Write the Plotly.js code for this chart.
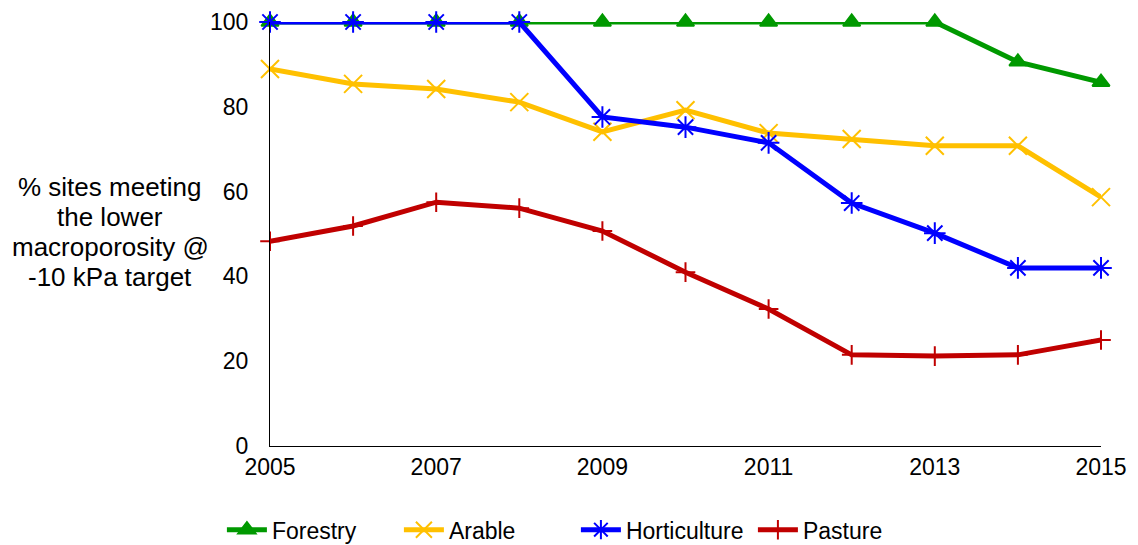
<!DOCTYPE html>
<html><head><meta charset="utf-8">
<script src="https://cdn.plot.ly/plotly-3.0.1.min.js"></script>
<style>html,body{margin:0;padding:0;background:#fff}#chart{width:1138px;height:545px}</style>
</head><body><div id="chart"></div>
<script>
const years = [2005,2006,2007,2008,2009,2010,2011,2012,2013,2014,2015];
const forestry = [100,100,100,100,100,100,100,100,100,90.6,85.8];
const arable = [88.9,85.4,84.2,81.1,74.1,79.2,73.8,72.4,70.8,70.8,58.7];
const horticulture = [100,100,100,100,77.6,75.2,71.5,57.3,50.2,42.0,42.0];
const pasture = [48.3,51.9,57.5,56.1,50.7,41.0,32.3,21.5,21.2,21.5,25.0];
const yTitleLines = ["% sites meeting", "the lower", "macroporosity @", "-10 kPa target"];

const mk = (name, y, color, symbol, size) => ({
  x: years, y: y, name: name, type: 'scatter', mode: 'lines+markers',
  cliponaxis: false,
  line: {color: color, width: 5},
  marker: {symbol: symbol, size: size, color: color, line: {color: color, width: 2}}
});
const data = [
  mk('Forestry', forestry, '#009900', 'triangle-up', 15),
  mk('Arable', arable, '#FFC000', 'x-thin-open', 18),
  mk('Horticulture', horticulture, '#0000FF', 'asterisk-open', 18),
  mk('Pasture', pasture, '#C00000', 'cross-thin-open', 14)
];
const plotTop = 22, plotBottom = 446, plotH = plotBottom - plotTop;
const annotations = yTitleLines.map((t, i) => ({
  text: t, xref: 'paper', yref: 'paper', x: -0.1925, y: (plotBottom - (187 + 30 * i)) / plotH,
  xanchor: 'center', yanchor: 'middle', showarrow: false, font: {size: 26}
}));
const layout = {
  width: 1138, height: 545,
  margin: {l: 270, r: 37, t: 22, b: 99},
  paper_bgcolor: '#fff', plot_bgcolor: '#fff',
  font: {family: 'Liberation Sans, Arial, sans-serif', size: 23, color: '#000'},
  xaxis: {range: [2005, 2015], dtick: 2, tick0: 2005, showgrid: false, zeroline: false,
    showline: true, linecolor: '#000', linewidth: 1, ticks: '', tickfont: {size: 23}},
  yaxis: {range: [0, 100], dtick: 20, showgrid: false, zeroline: false,
    showline: true, linecolor: '#000', linewidth: 1, ticks: 'outside', ticklen: 16,
    tickcolor: 'rgba(0,0,0,0)', tickfont: {size: 23}},
  legend: {orientation: 'h', xref: 'container', yref: 'container', x: 0.195, xanchor: 'left',
    y: 0.028, yanchor: 'middle', font: {size: 23}, itemwidth: 40, traceorder: 'normal',
    entrywidth: 122, entrywidthmode: 'pixels'},
  annotations: annotations
};
Plotly.newPlot('chart', data, layout, {displayModeBar: false});
</script></body></html>
